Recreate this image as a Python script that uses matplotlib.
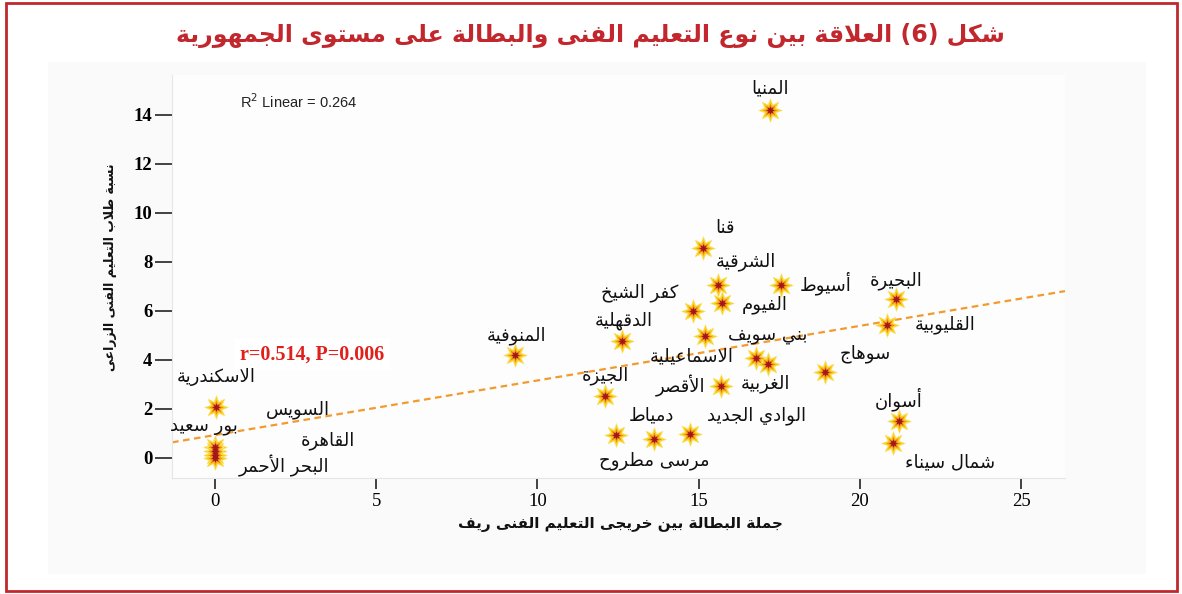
import numpy as np
import matplotlib
matplotlib.use("Agg")
import matplotlib.pyplot as plt
from matplotlib.patches import Rectangle

# ---- data ----
governorates = ["المنيا", "قنا", "الشرقية", "أسيوط", "البحيرة", "القليوبية",
                "كفر الشيخ", "الفيوم", "الدقهلية", "بني سويف", "المنوفية",
                "الاسماعيلية", "الغربية", "سوهاج", "الجيزة", "الأقصر",
                "أسوان", "شمال سيناء", "دمياط", "مرسى مطروح", "الوادي الجديد",
                "الاسكندرية", "السويس", "بور سعيد", "القاهرة", "البحر الأحمر"]
unemployment = [17.21, 15.14, 15.60, 17.56, 21.12, 20.84,
                14.83, 15.73, 12.62, 15.20, 9.31,
                16.77, 17.15, 18.92, 12.10, 15.70,
                21.20, 21.02, 12.43, 13.63, 14.73,
                0.03, 0.0, 0.0, 0.0, 0.0]
agri_share = [14.20, 8.57, 7.06, 7.06, 6.49, 5.43,
              6.01, 6.31, 4.78, 4.98, 4.20,
              4.09, 3.84, 3.52, 2.53, 2.92,
              1.52, 0.60, 0.94, 0.78, 0.98,
              2.08, 0.45, 0.30, 0.12, 0.0]
x_ticks = [0, 5, 10, 15, 20, 25]
y_ticks = [0, 2, 4, 6, 8, 10, 12, 14]

# label offsets from each point, in pixels (dx, dy)
label_offsets = [(0, 22), (22, 20), (28, 23), (44, 2), (0, 18), (58, 0),
                 (-53, 18), (43, -1), (2, 20), (63, 1), (1, 19),
                 (-64, 1), (-3, -20), (40, 18), (0, 20), (-41, 0),
                 (0, 21), (57, -19), (36, 19), (0, -22), (67, 18),
                 (0, 30), (83, 37), (-11, 25), (113, 14), (69, -8)]

title = "شكل (6) العلاقة بين نوع التعليم الفنى والبطالة على مستوى الجمهورية"
xlabel = "جملة البطالة بين خريجى التعليم الفنى ريف"
ylabel = "نسبة طلاب التعليم الفنى الزراعى"

# ---- minimal arabic shaping (matplotlib has no bidi/shaping) ----
_letters = "ءآأؤإئابةتثجحخدذرزسشصضطظعغفقكلمنهوىي"
_nforms = [1, 2, 2, 2, 2, 4, 2, 4, 2, 4, 4, 4, 4, 4, 2, 2, 2, 2, 4, 4,
           4, 4, 4, 4, 4, 4, 4, 4, 4, 4, 4, 4, 4, 2, 2, 4]
FORMS = {}
_cp = 0xFE80
for ch, n in zip(_letters, _nforms):
    FORMS[ch] = (_cp, n)
    _cp += n
LAM_ALEF = {"آ": 0xFEF5, "أ": 0xFEF7, "إ": 0xFEF9, "ا": 0xFEFB}


def _nf(c):
    if c == "ـ":
        return 4
    return FORMS[c][1] if c in FORMS else 0


def shape(text):
    out = []
    i = 0
    while i < len(text):
        c = text[i]
        if c not in FORMS:
            out.append(c)
            i += 1
            continue
        prev = text[i - 1] if i > 0 else ""
        join_prev = _nf(prev) == 4 and _nf(c) >= 2
        if c == "ل" and i + 1 < len(text) and text[i + 1] in LAM_ALEF:
            out.append(chr(LAM_ALEF[text[i + 1]] + (1 if join_prev else 0)))
            i += 2
            continue
        nxt = text[i + 1] if i + 1 < len(text) else ""
        join_next = _nf(c) == 4 and _nf(nxt) >= 2
        base, n = FORMS[c]
        if n == 1:
            form = 0
        elif join_prev and join_next:
            form = 3
        elif join_next:
            form = 2
        elif join_prev:
            form = 1
        else:
            form = 0
        out.append(chr(base + form))
        i += 1
    s = "".join(out)[::-1]
    return s.translate(str.maketrans("()", ")("))


# ---- figure ----
fig = plt.figure(figsize=(11.82, 5.94), dpi=100)
W, H = 1182.0, 594.0

fig.patches.append(Rectangle((48 / W, 1 - 574 / H), (1146 - 48) / W, (574 - 62) / H,
                             transform=fig.transFigure, facecolor="#fafafa",
                             edgecolor="none", zorder=-2))
fig.patches.append(Rectangle((6 / W, 1 - 591 / H), (1177 - 6) / W, (591 - 3) / H,
                             transform=fig.transFigure, facecolor="none",
                             edgecolor="#c1272d", linewidth=2, zorder=-1))

ax = fig.add_axes([172 / W, 1 - 478 / H, (1065 - 172) / W, (478 - 75) / H])
ax.set_zorder(2)
ax.set_facecolor("#fdfdfd")
ax.set_xlim(-1.33, 26.36)
ax.set_ylim(-0.82, 15.63)

for s in ["top", "right"]:
    ax.spines[s].set_visible(False)
for s in ["left", "bottom"]:
    ax.spines[s].set_color("#e6e6e6")

ax.set_xticks(x_ticks)
ax.set_yticks(y_ticks)
ax.tick_params(axis="y", length=12, width=1.2, color="#222222", pad=2)
ax.tick_params(axis="x", length=8, width=1.2, color="#222222", pad=3)
for t in ax.get_yticklabels():
    t.set_fontfamily("Liberation Serif")
    t.set_fontweight("bold")
    t.set_fontsize(13.5)
for t in ax.get_xticklabels():
    t.set_fontfamily("Liberation Serif")
    t.set_fontsize(13.5)

# fit line
coef = np.polyfit(unemployment, agri_share, 1)
xl = np.array(ax.get_xlim())
ax.plot(xl, np.polyval(coef, xl), color="#f39a2c", linestyle=(0, (3, 2)),
        linewidth=1.6, zorder=2)

# star markers
ax.scatter(unemployment, agri_share, marker=(8, 1, 0), s=300,
           color="#f9d21a", edgecolors="#fde58a", linewidths=0.4, zorder=3)
ax.scatter(unemployment, agri_share, marker=(8, 1, 0), s=110,
           color="#ee8a1c", linewidths=0, zorder=4)
ax.scatter(unemployment, agri_share, marker=(8, 1, 0), s=40,
           color="#a3161a", linewidths=0, zorder=5)

for name, xv, yv, off in zip(governorates, unemployment, agri_share, label_offsets):
    ax.annotate(shape(name), (xv, yv), xytext=off, textcoords="offset pixels",
                ha="center", va="center", fontsize=13, family="DejaVu Sans",
                color="#111111", zorder=8)

ax.text(0.076, 0.935, "R$^2$ Linear = 0.264", transform=ax.transAxes,
        fontsize=10.5, family="Liberation Sans", color="#222222", va="center")
ax.text(0.076, 0.307, "r=0.514, P=0.006", transform=ax.transAxes,
        fontsize=14.5, family="Liberation Serif", fontweight="bold",
        color="#e0201b", va="center", zorder=7,
        bbox=dict(facecolor="white", edgecolor="none", pad=4))

fig.text(620 / W, 1 - 525 / H, shape(xlabel), ha="center", va="center",
         fontsize=11, fontweight="bold", family="DejaVu Sans", color="#111111")
fig.text(110 / W, 1 - 267 / H, shape(ylabel), ha="center", va="center",
         rotation=90, fontsize=9, fontweight="bold", family="DejaVu Sans",
         color="#111111")
fig.text(590 / W, 1 - 35 / H, shape(title), ha="center", va="center",
         fontsize=17, fontweight="bold", family="DejaVu Sans", color="#c1272d")

fig.savefig("out.png", dpi=100)
